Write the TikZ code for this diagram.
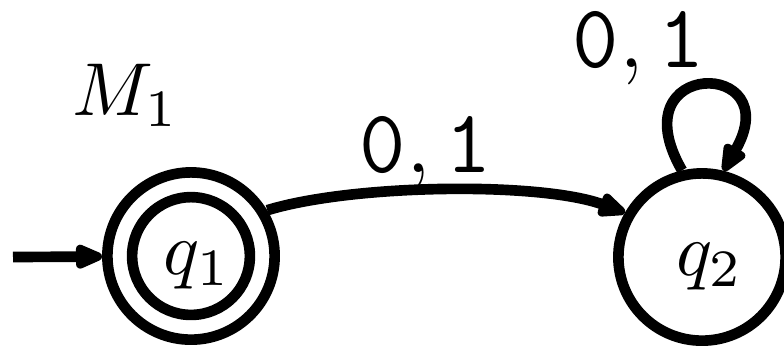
\documentclass[tikz,border=0pt]{standalone}
\usetikzlibrary{arrows.meta}
\begin{document}
\begin{tikzpicture}[x=0.13333pt,y=-0.13333pt,line width=1.42pt,
  state/.style={circle,draw,inner sep=0pt,minimum size=22.3pt},
  tip/.style={-{Triangle[length=4.5pt,width=3.4pt,round]}},
  lbl/.style={font=\large,inner sep=0pt,anchor=base},
  txt/.style={inner sep=0pt,anchor=base}]
\useasboundingbox (0,0) rectangle (784,348);
\node[state] (q1) at (191,256) {};
\node[circle,draw,inner sep=0pt,minimum size=15.7pt] (q1i) at (q1) {};
\node[state] (q2) at (702,257) {};
\node[txt] (t1) at (197.5,274) {$q_1$};
\node[txt] (t2) at (710,275) {$q_2$};
\node[txt,anchor=base west] (m) at (67,115) {$M_1$};
\coordinate (start) at (13,257);
\draw[tip] (start) -- (q1);
\draw[tip] (q1.31) .. controls +(-17:90) and +(-160:90) .. (q2.150);
\draw[tip] (q2.103) .. controls +(-120:130) and +(-60:130) .. (q2.76);
\node[lbl] (l1) at (426,172) {$\mathtt{0},\mathtt{1}$};
\node[lbl] (l2) at (639,67) {$\mathtt{0},\mathtt{1}$};
\end{tikzpicture}
\end{document}
